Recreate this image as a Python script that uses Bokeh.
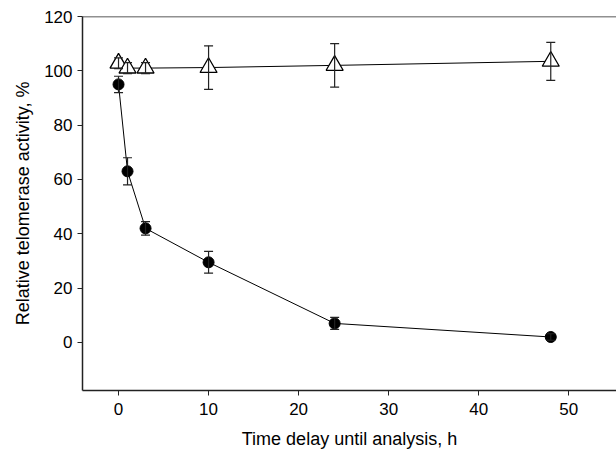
from bokeh.plotting import figure
from bokeh.models import Whisker, ColumnDataSource, Range1d, Span, FixedTicker, TeeHead
from bokeh.embed import file_html
from bokeh.resources import INLINE

# data
time_h = [0, 1, 3, 10, 24, 48]
treated = [95, 63, 42, 29.5, 7, 2]
treated_err = [3, 5, 2.5, 4, 2.2, 1.2]
control = [102.8, 101, 101, 101.2, 102, 103.5]
control_err = [2, 2, 2, 8, 8, 7]
x_ticks = [0, 10, 20, 30, 40, 50]
y_ticks = [0, 20, 40, 60, 80, 100, 120]

src_t = ColumnDataSource(dict(x=time_h, y=treated,
                              upper=[v + e for v, e in zip(treated, treated_err)],
                              lower=[v - e for v, e in zip(treated, treated_err)]))
src_c = ColumnDataSource(dict(x=time_h, y=control,
                              upper=[v + e for v, e in zip(control, control_err)],
                              lower=[v - e for v, e in zip(control, control_err)]))

p = figure(width=616, height=454, output_backend="svg", toolbar_location=None,
           x_range=Range1d(-4, 55.3), y_range=Range1d(-17.7, 120),
           min_border_left=82, min_border_right=0, min_border_top=16, min_border_bottom=64)
p.outline_line_color = None
p.grid.visible = False
p.background_fill_color = "white"

FONT = "Liberation Sans"
for ax in (p.xaxis[0], p.yaxis[0]):
    ax.axis_line_color = "#222222"
    ax.axis_line_width = 1.5
    ax.major_tick_line_color = "#222222"
    ax.major_tick_line_width = 1
    ax.major_tick_out = 5
    ax.major_tick_in = 0
    ax.minor_tick_line_color = None
    ax.major_label_text_font = FONT
    ax.major_label_text_font_size = "17px"
    ax.major_label_text_color = "black"
    ax.axis_label_text_font = FONT
    ax.axis_label_text_font_size = "18px"
    ax.axis_label_text_font_style = "normal"
    ax.axis_label_text_color = "black"

p.xaxis[0].ticker = FixedTicker(ticks=x_ticks)
p.yaxis[0].ticker = FixedTicker(ticks=y_ticks)
p.xaxis.axis_label = "Time delay until analysis, h"
p.yaxis.axis_label = "Relative telomerase activity, %"
p.xaxis.major_label_standoff = 7
p.xaxis.axis_label_standoff = 11
p.yaxis.major_label_standoff = 5
p.yaxis.axis_label_standoff = 8

p.add_layout(Span(location=120, dimension="width", line_color="#222222", line_width=1.5))

# lines
p.line("x", "y", source=src_t, line_color="black", line_width=1)
p.line("x", "y", source=src_c, line_color="black", line_width=1)

# error bars
for src in (src_t, src_c):
    w = Whisker(source=src, base="x", upper="upper", lower="lower",
                line_color="#222222", line_width=1.2, level="glyph",
                upper_head=TeeHead(size=9, line_color="#222222", line_width=1.2),
                lower_head=TeeHead(size=9, line_color="#222222", line_width=1.2))
    p.add_layout(w)

p.scatter("x", "y", source=src_t, marker="circle", size=11,
          fill_color="black", line_color="black")
p.scatter("x", "y", source=src_c, marker="triangle", size=17,
          fill_color="white", line_color="black", line_width=1.3)

open("out.html", "w").write(file_html(p, INLINE))
